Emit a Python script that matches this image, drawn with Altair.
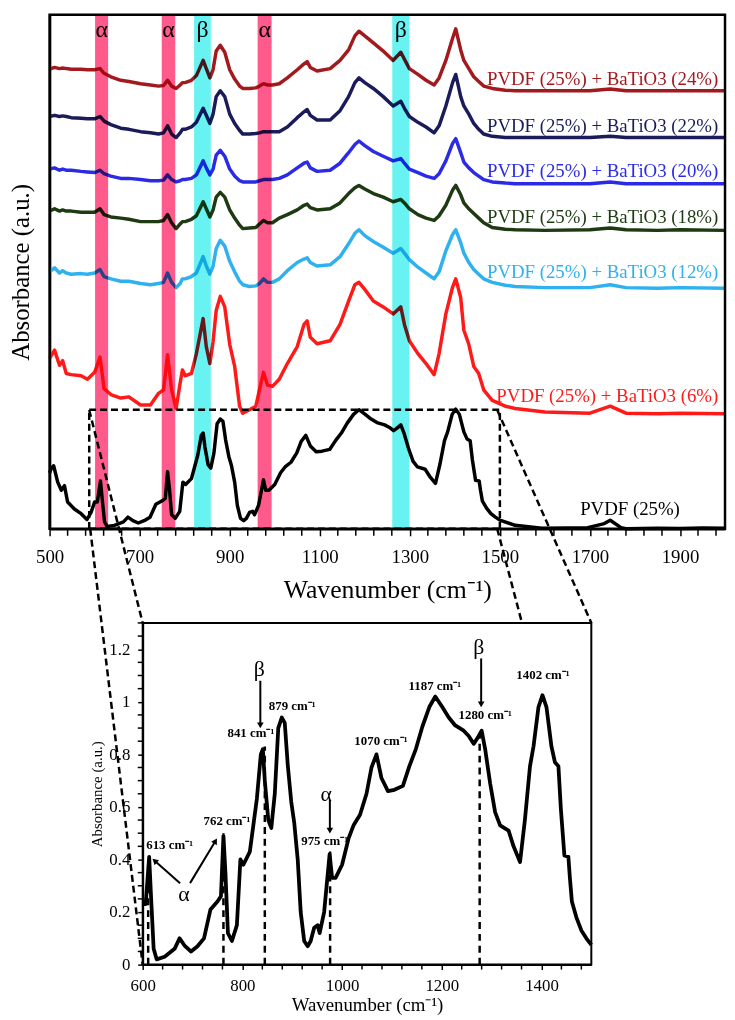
import altair as alt
import pandas as pd

# ------------------------------------------------------------------ data
# PVDF (25%) reference spectrum (absorbance, a.u.)
pvdf_x = [500, 504, 509, 518, 526, 533, 540, 555, 570, 583, 592, 600, 606, 613, 617, 622, 628, 644, 654, 664,
          674, 685, 697, 710, 723, 736, 750, 757, 762, 766, 771, 779, 789, 796, 802, 815, 822, 829, 837, 841,
          845, 852, 858, 865, 872, 879, 885, 891, 898, 904, 911, 917, 924, 931, 937, 944, 951, 955, 964, 975,
          980, 987, 1000, 1013, 1023, 1036, 1049, 1059, 1069, 1079, 1092, 1105, 1122, 1135, 1148, 1161, 1175,
          1187, 1201, 1214, 1227, 1244, 1254, 1264, 1271, 1280, 1287, 1297, 1307, 1317, 1334, 1344, 1357, 1367,
          1377, 1384, 1394, 1402, 1410, 1420, 1427, 1434, 1439, 1446, 1454, 1457, 1461, 1470, 1480, 1490, 1500,
          1534, 1593, 1650, 1695, 1732, 1745, 1769, 1783, 1850, 1900, 1950, 2000]
pvdf_y = [0.48, 0.52, 0.54, 0.40, 0.33, 0.37, 0.23, 0.17, 0.13, 0.08, 0.14, 0.23, 0.23, 0.41, 0.25, 0.06, 0.02,
          0.03, 0.045, 0.06, 0.10, 0.07, 0.05, 0.07, 0.10, 0.21, 0.24, 0.26, 0.49, 0.35, 0.12, 0.09, 0.15, 0.40,
          0.38, 0.43, 0.53, 0.63, 0.80, 0.82, 0.70, 0.55, 0.52, 0.65, 0.90, 0.94, 0.92, 0.76, 0.62, 0.54, 0.40,
          0.20, 0.09, 0.07, 0.09, 0.14, 0.15, 0.12, 0.20, 0.42, 0.33, 0.33, 0.38, 0.48, 0.53, 0.57, 0.65, 0.75,
          0.80, 0.71, 0.66, 0.665, 0.68, 0.755, 0.82, 0.905, 0.98, 1.02, 0.98, 0.94, 0.91, 0.89, 0.87, 0.84,
          0.86, 0.89, 0.82, 0.69, 0.58, 0.53, 0.51, 0.45, 0.39, 0.555, 0.755, 0.83, 0.98, 1.025, 0.98, 0.83,
          0.77, 0.755, 0.59, 0.415, 0.41, 0.33, 0.24, 0.18, 0.13, 0.10, 0.075, 0.03, 0.005, 0.008, 0.01, 0.045,
          0.074, 0.01, 0.0, 0.005, 0.003, 0.008, 0.005]

# PVDF + BaTiO3 spectra (stacked, a.u.), common wavenumber grid
mix_x = [500, 511, 522, 529, 537, 548, 570, 584, 600, 612, 621, 636, 658, 676, 702, 724, 742, 753, 762, 771,
         781, 790, 795, 801, 815, 826, 841, 848, 856, 863, 870, 879, 889, 900, 911, 922, 929, 944, 958, 966,
         975, 984, 995, 1010, 1028, 1050, 1065, 1072, 1079, 1094, 1123, 1145, 1164, 1178, 1187, 1200, 1219,
         1241, 1263, 1280, 1288, 1299, 1318, 1336, 1354, 1365, 1380, 1395, 1402, 1413, 1420, 1431, 1442, 1453,
         1464, 1483, 1512, 1534, 1600, 1700, 1745, 1780, 1850, 1900, 2000]
mix6_y = [1.46, 1.53, 1.40, 1.44, 1.33, 1.32, 1.31, 1.28, 1.34, 1.47, 1.20, 1.15, 1.12, 1.13, 1.06, 1.06, 1.16,
          1.19, 1.49, 1.19, 1.03, 1.25, 1.36, 1.31, 1.33, 1.50, 1.80, 1.56, 1.415, 1.60, 1.87, 1.99, 1.90, 1.58,
          1.39, 1.05, 0.99, 1.02, 1.05, 1.19, 1.34, 1.23, 1.22, 1.28, 1.415, 1.56, 1.75, 1.78, 1.64, 1.585,
          1.61, 1.75, 1.95, 2.09, 2.11, 2.05, 1.95, 1.90, 1.84, 1.90, 1.75, 1.61, 1.50, 1.415, 1.32, 1.50,
          1.84, 2.07, 2.14, 1.98, 1.70, 1.58, 1.39, 1.33, 1.19, 1.10, 1.05, 1.03, 1.00, 0.99, 1.05, 0.99,
          0.985, 0.99, 0.985]
mix12_y = [2.20, 2.235, 2.19, 2.21, 2.19, 2.18, 2.185, 2.18, 2.19, 2.22, 2.16, 2.14, 2.12, 2.12, 2.10, 2.09,
           2.10, 2.11, 2.19, 2.11, 2.065, 2.10, 2.14, 2.14, 2.16, 2.19, 2.33, 2.25, 2.18, 2.25, 2.40, 2.47, 2.42,
           2.29, 2.20, 2.12, 2.09, 2.075, 2.08, 2.10, 2.14, 2.11, 2.11, 2.14, 2.21, 2.28, 2.31, 2.32, 2.28,
           2.25, 2.26, 2.33, 2.44, 2.53, 2.56, 2.51, 2.46, 2.41, 2.36, 2.40, 2.36, 2.305, 2.24, 2.19, 2.14,
           2.20, 2.38, 2.52, 2.56, 2.45, 2.36, 2.28, 2.22, 2.18, 2.14, 2.11, 2.085, 2.075, 2.065, 2.065, 2.09,
           2.065, 2.06, 2.065, 2.06]
mix18_y = [2.72, 2.74, 2.72, 2.73, 2.72, 2.72, 2.71, 2.71, 2.71, 2.74, 2.69, 2.67, 2.66, 2.65, 2.63, 2.63,
           2.63, 2.64, 2.69, 2.62, 2.57, 2.61, 2.63, 2.63, 2.65, 2.68, 2.80, 2.74, 2.67, 2.73, 2.84, 2.88, 2.84,
           2.73, 2.66, 2.60, 2.57, 2.575, 2.58, 2.61, 2.64, 2.62, 2.62, 2.66, 2.69, 2.73, 2.77, 2.78, 2.75,
           2.73, 2.74, 2.79, 2.87, 2.92, 2.94, 2.91, 2.87, 2.84, 2.80, 2.82, 2.79, 2.74, 2.69, 2.66, 2.64,
           2.68, 2.77, 2.90, 2.94, 2.86, 2.79, 2.74, 2.70, 2.66, 2.62, 2.58, 2.565, 2.56, 2.555, 2.56, 2.575,
           2.56, 2.555, 2.56, 2.555]
mix20_y = [3.08, 3.09, 3.07, 3.08, 3.07, 3.07, 3.06, 3.055, 3.05, 3.07, 3.04, 3.02, 3.00, 3.00, 2.99, 2.98,
           2.98, 2.985, 3.03, 2.99, 2.97, 2.98, 2.99, 2.99, 3.00, 3.03, 3.15, 3.09, 3.03, 3.08, 3.20, 3.24,
           3.19, 3.08, 3.02, 2.98, 2.97, 2.97, 2.97, 2.98, 2.99, 2.99, 2.99, 3.00, 3.03, 3.09, 3.13, 3.14,
           3.09, 3.06, 3.07, 3.13, 3.22, 3.29, 3.32, 3.28, 3.23, 3.19, 3.15, 3.17, 3.13, 3.08, 3.05, 3.02,
           3.00, 3.04, 3.15, 3.30, 3.34, 3.22, 3.14, 3.09, 3.05, 3.02, 2.99, 2.97, 2.96, 2.955, 2.955, 2.955,
           2.97, 2.955, 2.955, 2.955, 2.955]
mix22_y = [3.53, 3.54, 3.53, 3.535, 3.53, 3.52, 3.515, 3.51, 3.51, 3.53, 3.49, 3.46, 3.43, 3.42, 3.40, 3.39,
           3.38, 3.39, 3.45, 3.38, 3.35, 3.39, 3.42, 3.42, 3.44, 3.48, 3.60, 3.54, 3.47, 3.55, 3.70, 3.75, 3.70,
           3.55, 3.47, 3.41, 3.38, 3.38, 3.385, 3.39, 3.40, 3.40, 3.40, 3.40, 3.44, 3.52, 3.57, 3.59, 3.54,
           3.50, 3.50, 3.58, 3.70, 3.82, 3.86, 3.82, 3.77, 3.70, 3.62, 3.66, 3.60, 3.53, 3.48, 3.44, 3.39,
           3.45, 3.62, 3.82, 3.89, 3.70, 3.62, 3.55, 3.47, 3.42, 3.38, 3.36, 3.35, 3.35, 3.35, 3.35, 3.36,
           3.35, 3.35, 3.35, 3.35]
mix24_y = [3.935, 3.95, 3.94, 3.945, 3.94, 3.935, 3.935, 3.93, 3.93, 3.94, 3.90, 3.87, 3.84, 3.83, 3.81, 3.80,
           3.79, 3.795, 3.84, 3.79, 3.77, 3.80, 3.82, 3.82, 3.84, 3.88, 4.01, 3.94, 3.86, 3.93, 4.09, 4.14,
           4.08, 3.93, 3.85, 3.79, 3.77, 3.77, 3.775, 3.79, 3.81, 3.80, 3.80, 3.81, 3.86, 3.93, 3.98, 4.00,
           3.95, 3.92, 3.94, 4.01, 4.10, 4.22, 4.26, 4.22, 4.16, 4.09, 4.01, 4.08, 4.02, 3.94, 3.89, 3.84,
           3.80, 3.86, 4.01, 4.20, 4.28, 4.10, 4.01, 3.94, 3.87, 3.83, 3.79, 3.77, 3.755, 3.75, 3.75, 3.75,
           3.765, 3.75, 3.75, 3.75, 3.75]

series_names = ["PVDF (25%)",
                "PVDF (25%) + BaTiO3 (6%)",
                "PVDF (25%) + BaTiO3 (12%)",
                "PVDF (25%) + BaTiO3 (18%)",
                "PVDF (25%) + BaTiO3 (20%)",
                "PVDF (25%) + BaTiO3 (22%)",
                "PVDF (25%) + BaTiO3 (24%)"]
series_colors = ["#000000", "#FF1A1A", "#2EB1EE", "#1E3A12", "#2B2BE6", "#1B1B5C", "#A2191E"]

# label positions (a.u.) next to each mixture spectrum
mix_label_y = [1.14, 2.20, 2.67, 3.06, 3.45, 3.85]
mix_label_x = 1985
pvdf_label_x, pvdf_label_y = 1789, 0.17

# highlighted bands
band_lo = [601, 749, 821, 962, 1261]
band_hi = [630, 779, 858, 993, 1299]
band_phase = ["α", "α", "β", "α", "β"]
alpha_color = "#FF5A8C"
beta_color = "#68F2F2"
band_label_y = 4.27

# axis ticks
top_major = [500, 700, 900, 1100, 1300, 1500, 1700, 1900]
top_minor = [v for v in range(500, 2000, 40) if v not in top_major]
inset_x_major = [600, 800, 1000, 1200, 1400]
inset_x_minor = [v for v in range(600, 1500, 40) if v not in inset_x_major]
inset_y_major = [0, 0.2, 0.4, 0.6, 0.8, 1.0, 1.2]
inset_y_minor = [round(i * 0.05, 2) for i in range(0, 27) if i % 4 != 0]

# zoom box in the main panel (wavenumber, a.u.)
box_x = [588, 1500]
box_y = [0.0, 1.02]

# inset annotations
peak_text = ["613 cm⁻¹", "762 cm⁻¹", "841 cm⁻¹", "879 cm⁻¹", "975 cm⁻¹",
             "1070 cm⁻¹", "1187 cm⁻¹", "1280 cm⁻¹", "1402 cm⁻¹"]
peak_text_x = [654, 769, 817, 900, 965, 1078, 1186, 1287, 1403]
peak_text_y = [0.455, 0.545, 0.88, 0.985, 0.47, 0.85, 1.06, 0.95, 1.10]

mark_x = [611, 762, 845, 976, 1276]
mark_top = [0.38, 0.50, 0.83, 0.43, 0.88]

greek_text = ["β", "α", "β", "α"]
greek_x = [834, 968, 1274, 683]
greek_y = [1.125, 0.65, 1.21, 0.27]

arrow_x1 = [836, 975.5, 1279, 675, 695]
arrow_y1 = [1.08, 0.625, 1.165, 0.31, 0.31]
arrow_x2 = [836, 975.5, 1279, 624, 746]
arrow_y2 = [0.91, 0.51, 0.99, 0.395, 0.47]
arrow_angle = [180, 180, 180, 312, 31]

# ------------------------------------------------------------------ frames
rows = [{"wn": x, "ab": y, "series": series_names[0]} for x, y in zip(pvdf_x, pvdf_y)]
for name, ys in zip(series_names[1:], [mix6_y, mix12_y, mix18_y, mix20_y, mix22_y, mix24_y]):
    rows += [{"wn": x, "ab": y, "series": name} for x, y in zip(mix_x, ys)]
spec = pd.DataFrame(rows)

inset_df = pd.DataFrame({"wn": pvdf_x, "ab": pvdf_y})
inset_df = inset_df[(inset_df.wn >= 600) & (inset_df.wn <= 1500)]

bands = pd.DataFrame({"lo": band_lo, "hi": band_hi, "phase": band_phase,
                      "mid": [(a + b) / 2 for a, b in zip(band_lo, band_hi)],
                      "ly": [band_label_y] * len(band_lo)})

mix_labels = pd.DataFrame({"txt": series_names[1:], "x": [mix_label_x] * 6,
                           "y": mix_label_y, "col": series_colors[1:]})
pvdf_label = pd.DataFrame({"txt": [series_names[0]], "x": [pvdf_label_x], "y": [pvdf_label_y]})

box = pd.DataFrame({
    "x": [box_x[0], box_x[0], box_x[1], box_x[0]],
    "x2": [box_x[1], box_x[0], box_x[1], box_x[1]],
    "y": [box_y[1], box_y[0], box_y[0], box_y[0]],
    "y2": [box_y[1], box_y[1], box_y[1], box_y[0]],
})

FONT = "Liberation Serif"
W1, H1 = 682, 519
xs1 = alt.Scale(domain=[500, 2000], nice=False, zero=False)
ys1 = alt.Scale(domain=[0, 4.4], nice=False, zero=False)

x_axis1 = alt.Axis(values=top_major, format="d", tickSize=7, tickWidth=1.5, tickColor="black",
                   domainColor="black", domainWidth=2.5, labelFont=FONT, labelFontSize=19,
                   labelColor="black", labelPadding=12,
                   title="Wavenumber (cm⁻¹)", titleFont=FONT, titleFontSize=26, titleFontWeight="normal",
                   titleColor="black", titlePadding=10, grid=False, labelFlush=False)
y_axis1 = alt.Axis(labels=False, ticks=False, domainColor="black", domainWidth=2.5,
                   title="Absorbance (a.u.)", titleFont=FONT, titleFontSize=25, titleFontWeight="normal",
                   titleColor="black", titlePadding=16, grid=False)

lines = alt.Chart(spec).mark_line(strokeWidth=3.5, strokeJoin="round").encode(
    x=alt.X("wn:Q", scale=xs1, axis=x_axis1),
    y=alt.Y("ab:Q", scale=ys1, axis=y_axis1),
    color=alt.Color("series:N", scale=alt.Scale(domain=series_names, range=series_colors), legend=None),
    order=alt.Order("wn:Q"),
)

minor1 = alt.Chart(pd.DataFrame({"v": top_minor})).mark_rule(strokeWidth=1.5, color="black").encode(
    x=alt.X("v:Q", scale=xs1), y=alt.value(H1), y2=alt.value(H1 + 7))

box_layer = alt.Chart(box).mark_rule(strokeDash=[7, 4], strokeWidth=2.5, color="black").encode(
    x=alt.X("x:Q", scale=xs1), x2="x2:Q", y=alt.Y("y:Q", scale=ys1), y2="y2:Q")

alpha_layer = alt.Chart(bands[bands.phase == "α"]).mark_rect(blend="multiply", color=alpha_color).encode(
    x=alt.X("lo:Q", scale=xs1), x2="hi:Q")
beta_layer = alt.Chart(bands[bands.phase == "β"]).mark_rect(blend="multiply", color=beta_color).encode(
    x=alt.X("lo:Q", scale=xs1), x2="hi:Q")

band_text = alt.Chart(bands).mark_text(font=FONT, fontSize=24, color="black", baseline="middle").encode(
    x=alt.X("mid:Q", scale=xs1), y=alt.Y("ly:Q", scale=ys1), text="phase:N")

mix_text = alt.Chart(mix_labels).mark_text(font=FONT, fontSize=19, align="right", baseline="middle").encode(
    x=alt.X("x:Q", scale=xs1), y=alt.Y("y:Q", scale=ys1), text="txt:N",
    color=alt.Color("col:N", scale=None))

pvdf_text = alt.Chart(pvdf_label).mark_text(font=FONT, fontSize=19, align="center", baseline="middle",
                                             color="black").encode(
    x=alt.X("x:Q", scale=xs1), y=alt.Y("y:Q", scale=ys1), text="txt:N")

frame1 = alt.Chart(pd.DataFrame({"a": [500], "b": [2000], "c": [0], "d": [4.4]})).mark_rect(
    filled=False, stroke="black", strokeWidth=2.5).encode(
    x=alt.X("a:Q", scale=xs1), x2="b:Q", y=alt.Y("c:Q", scale=ys1), y2="d:Q")


def connector(x1, y1, x2, y2):
    return alt.Chart(pd.DataFrame({"k": [0]})).mark_rule(
        strokeDash=[7, 4], strokeWidth=2.5, color="black").encode(
        x=alt.value(x1), y=alt.value(y1), x2=alt.value(x2), y2=alt.value(y2))


connectors = [connector(40, 399, 94, 614), connector(41, 519, 94, 959),
              connector(452, 399, 547, 614), connector(452, 519, 477, 614)]

top = alt.layer(lines, minor1, box_layer, alpha_layer, beta_layer, band_text, mix_text, pvdf_text, frame1,
                *connectors).properties(width=W1, height=H1)

# ------------------------------------------------------------------ inset
W2, H2 = 547, 345
X0 = 94
xs2 = alt.Scale(domain=[600, 1500], range=[X0, W2], nice=False, zero=False)
ys2 = alt.Scale(domain=[0, 1.3], nice=False, zero=False)

x_axis2 = alt.Axis(values=inset_x_major, format="d", tickSize=5, tickWidth=1.5, tickColor="black",
                   domainColor="black", domainWidth=2, labelFont=FONT, labelFontSize=17, labelColor="black",
                   labelPadding=8, title="Wavenumber (cm⁻¹)", titleFont=FONT, titleFontSize=19,
                   titleFontWeight="normal", titleColor="black", titlePadding=2, grid=False, labelFlush=False)
y_axis2 = alt.Axis(values=inset_y_major, offset=-X0, format="~g", tickSize=5, tickWidth=1.5,
                   tickColor="black", domainColor="black", domainWidth=2, labelFont=FONT, labelFontSize=17,
                   labelColor="black", labelPadding=8, title="Absorbance (a.u.)", titleFont=FONT,
                   titleFontSize=15, titleFontWeight="normal", titleColor="black", titlePadding=4,
                   grid=False, labelFlush=False)

inset_line = alt.Chart(inset_df).mark_line(strokeWidth=3.8, color="black", strokeJoin="round").encode(
    x=alt.X("wn:Q", scale=xs2, axis=x_axis2),
    y=alt.Y("ab:Q", scale=ys2, axis=y_axis2),
    order=alt.Order("wn:Q"),
)

minor2x = alt.Chart(pd.DataFrame({"v": inset_x_minor})).mark_rule(strokeWidth=1.5, color="black").encode(
    x=alt.X("v:Q", scale=xs2), y=alt.value(H2), y2=alt.value(H2 + 5))
minor2y = alt.Chart(pd.DataFrame({"v": inset_y_minor})).mark_rule(strokeWidth=1.5, color="black").encode(
    y=alt.Y("v:Q", scale=ys2), x=alt.value(X0), x2=alt.value(X0 - 5))

marks_df = pd.DataFrame({"x": mark_x, "top": mark_top, "zero": [0] * len(mark_x)})
mark_layer = alt.Chart(marks_df).mark_rule(strokeDash=[7, 5], strokeWidth=2.5, color="black").encode(
    x=alt.X("x:Q", scale=xs2), y=alt.Y("zero:Q", scale=ys2), y2="top:Q")

peak_df = pd.DataFrame({"t": peak_text, "x": peak_text_x, "y": peak_text_y})
peak_layer = alt.Chart(peak_df).mark_text(font=FONT, fontSize=13, fontWeight="bold", color="black",
                                          baseline="middle").encode(
    x=alt.X("x:Q", scale=xs2), y=alt.Y("y:Q", scale=ys2), text="t:N")

greek_df = pd.DataFrame({"t": greek_text, "x": greek_x, "y": greek_y})
greek_layer = alt.Chart(greek_df).mark_text(font=FONT, fontSize=22, color="black", baseline="middle").encode(
    x=alt.X("x:Q", scale=xs2), y=alt.Y("y:Q", scale=ys2), text="t:N")

arrow_df = pd.DataFrame({"x1": arrow_x1, "y1": arrow_y1, "x2": arrow_x2, "y2": arrow_y2, "ang": arrow_angle})
arrow_lines = alt.Chart(arrow_df).mark_rule(strokeWidth=2, color="black").encode(
    x=alt.X("x1:Q", scale=xs2), y=alt.Y("y1:Q", scale=ys2), x2="x2:Q", y2="y2:Q")
arrow_heads = alt.Chart(arrow_df).mark_point(shape="triangle-up", filled=True, color="black", size=45,
                                             opacity=1).encode(
    x=alt.X("x2:Q", scale=xs2), y=alt.Y("y2:Q", scale=ys2), angle=alt.Angle("ang:Q", scale=None))

frame2 = alt.Chart(pd.DataFrame({"a": [600], "b": [1500], "c": [0], "d": [1.3]})).mark_rect(
    filled=False, stroke="black", strokeWidth=2).encode(
    x=alt.X("a:Q", scale=xs2), x2="b:Q", y=alt.Y("c:Q", scale=ys2), y2="d:Q")

inset = alt.layer(frame2, minor2x, minor2y, mark_layer, inset_line, arrow_lines, arrow_heads, peak_layer,
                  greek_layer).properties(width=W2, height=H2)

chart = alt.vconcat(top, inset, spacing=95, bounds="flush").properties(
    padding={"left": 1, "top": 0, "right": 0, "bottom": 0}
).configure_view(strokeWidth=0)

chart.save("out.html", embed_options={"renderer": "svg", "actions": False})
